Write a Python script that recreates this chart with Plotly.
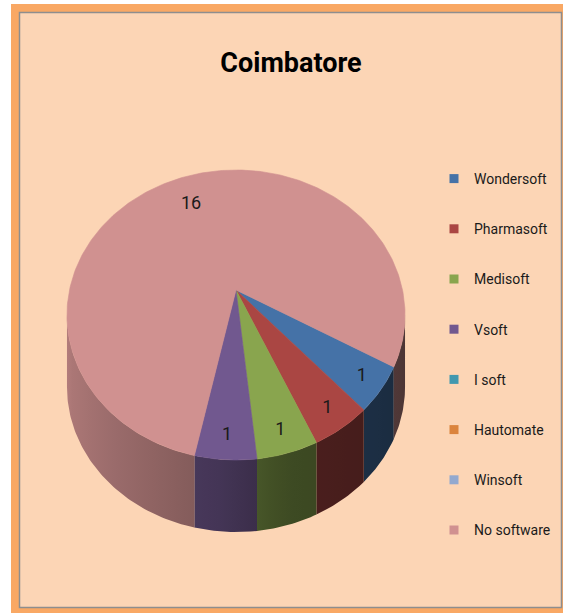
import numpy as np
import plotly.graph_objects as go

# ---------------- data ----------------
labels = ["Wondersoft", "Pharmasoft", "Medisoft", "Vsoft", "I soft",
          "Hautomate", "Winsoft", "No software"]
values = [1, 1, 1, 1, 0, 0, 0, 16]
colors = ["#4572A7", "#AA4643", "#89A54E", "#71588F", "#4198AF",
          "#DB843D", "#93A9CF", "#D09190"]
chart_title = "Coimbatore"

# ---------------- style / geometry ----------------
W, H = 563, 613
CX, CY = 236, 290          # apex of the pie on screen
RA, RB = 166.5, 140.7      # projected radii
K = 0.1724                 # perspective factor
DEPTH = 72                 # thickness of the pie
START = 30.0               # start angle (deg, clockwise from 3 o'clock)
FONT = "Roboto, Liberation Sans, sans-serif"

T_R = np.degrees(np.arcsin(K))
T_L = 180 - T_R
shade_x = [0, 10, 40, 57, 75, 93, 110, 140, 180]
shade_f = [0.36, 0.36, 0.40, 0.42, 0.45, 0.59, 0.67, 0.78, 0.88]


def proj(theta, r=1.0, drop=0.0):
    t = np.radians(theta)
    X, Y = r * np.cos(t), r * np.sin(t)
    w = 1 - K * Y
    return CX + RA * X / w, CY + RB * Y / w + drop


def shade(hexc, f):
    h = hexc.lstrip("#")
    rgb = [int(h[i:i + 2], 16) for i in (0, 2, 4)]
    return "rgb(%d,%d,%d)" % tuple(max(0, min(255, round(c * f))) for c in rgb)


fig = go.Figure()

total = sum(values)
bounds = []
a = START
for v in values:
    span = 360.0 * v / total
    bounds.append((a, a + span))
    a += span

# ---- side walls (front half only), horizontal gradient shading ----
for (a0, a1), v, col in zip(bounds, values, colors):
    if v <= 0:
        continue
    for off in (-360, 0, 360):
        lo, hi = max(a0 + off, T_R), min(a1 + off, T_L)
        if hi <= lo:
            continue
        th = np.linspace(lo, hi, max(4, int(hi - lo) + 2))
        xt, yt = proj(th)
        xb, yb = proj(th[::-1], drop=DEPTH)
        xmin, xmax = xt.min(), xt.max()
        stops = np.linspace(hi, lo, 6)          # left (hi angle) -> right
        sx, _ = proj(stops)
        pos = (sx - xmin) / max(xmax - xmin, 1e-9)
        pos[0], pos[-1] = 0.0, 1.0
        cscale = [[float(p), shade(col, np.interp(s, shade_x, shade_f))]
                  for p, s in zip(pos, stops)]
        mid = shade(col, np.interp((lo + hi) / 2, shade_x, shade_f))
        fig.add_trace(go.Scatter(
            x=np.concatenate([xt, xb, xt[:1]]),
            y=np.concatenate([yt, yb, yt[:1]]),
            mode="lines", fill="toself",
            fillgradient=dict(type="horizontal", colorscale=cscale),
            line=dict(color=mid, width=0),
            hoverinfo="skip", showlegend=False))

# ---- top faces ----
for (a0, a1), v, col, lab in zip(bounds, values, colors, labels):
    if v <= 0:
        continue
    th = np.linspace(a0, a1, max(3, int(abs(a1 - a0)) + 2))
    xa, ya = proj(th)
    fig.add_trace(go.Scatter(
        x=np.concatenate([[CX], xa, [CX]]),
        y=np.concatenate([[CY], ya, [CY]]),
        mode="lines", fill="toself", fillcolor=col,
        line=dict(color=col, width=0.6),
        name=lab, hoverinfo="name", showlegend=False))

# ---- data labels ----
lx, ly, lt = [], [], []
for (a0, a1), v in zip(bounds, values):
    if v <= 0:
        continue
    r = 0.74 if v > 5 else 0.88
    x, y = proj((a0 + a1) / 2, r=r)
    lx.append(x); ly.append(y); lt.append(str(v))
fig.add_trace(go.Scatter(x=lx, y=ly, text=lt, mode="text",
                         textfont=dict(family=FONT, size=18, color="#1a1a1a"),
                         hoverinfo="skip", showlegend=False))

# ---- legend entries ----
for lab, col in zip(labels, colors):
    fig.add_trace(go.Scatter(x=[None], y=[None], mode="markers", name=lab,
                             legendgroup=lab,
                             marker=dict(symbol="square", size=9, color=col)))

fig.update_layout(
    width=W, height=H, autosize=False,
    margin=dict(l=0, r=0, t=0, b=0),
    paper_bgcolor="white", plot_bgcolor="rgba(0,0,0,0)",
    xaxis=dict(range=[0, W], visible=False, fixedrange=True),
    yaxis=dict(range=[H, 0], visible=False, fixedrange=True),
    showlegend=True,
    legend=dict(x=434 / W, y=1 - 163 / H, xanchor="left", yanchor="top",
                bgcolor="rgba(0,0,0,0)", traceorder="grouped",
                tracegroupgap=29, itemclick=False, itemwidth=30,
                font=dict(family=FONT, size=14, color="#1a1a1a")),
    title=dict(text="<b>%s</b>" % chart_title, x=291 / W, y=1 - 63 / H,
               xanchor="center", yanchor="middle",
               font=dict(family=FONT, size=27, color="black")),
    shapes=[
        dict(type="rect", xref="x", yref="y", x0=11, y0=4, x1=W, y1=H,
             fillcolor="#F9A864", line=dict(width=0), layer="below"),
        dict(type="rect", xref="x", yref="y", x0=19.5, y0=12.5, x1=561.5, y1=607.5,
             fillcolor="#FCD5B5", line=dict(color="#8E8E8E", width=1.5), layer="below"),
    ],
)

fig.write_html("out.html", config={"displayModeBar": False},
               post_script="document.body.style.margin='0px';"
                           "document.body.style.overflow='hidden';")
